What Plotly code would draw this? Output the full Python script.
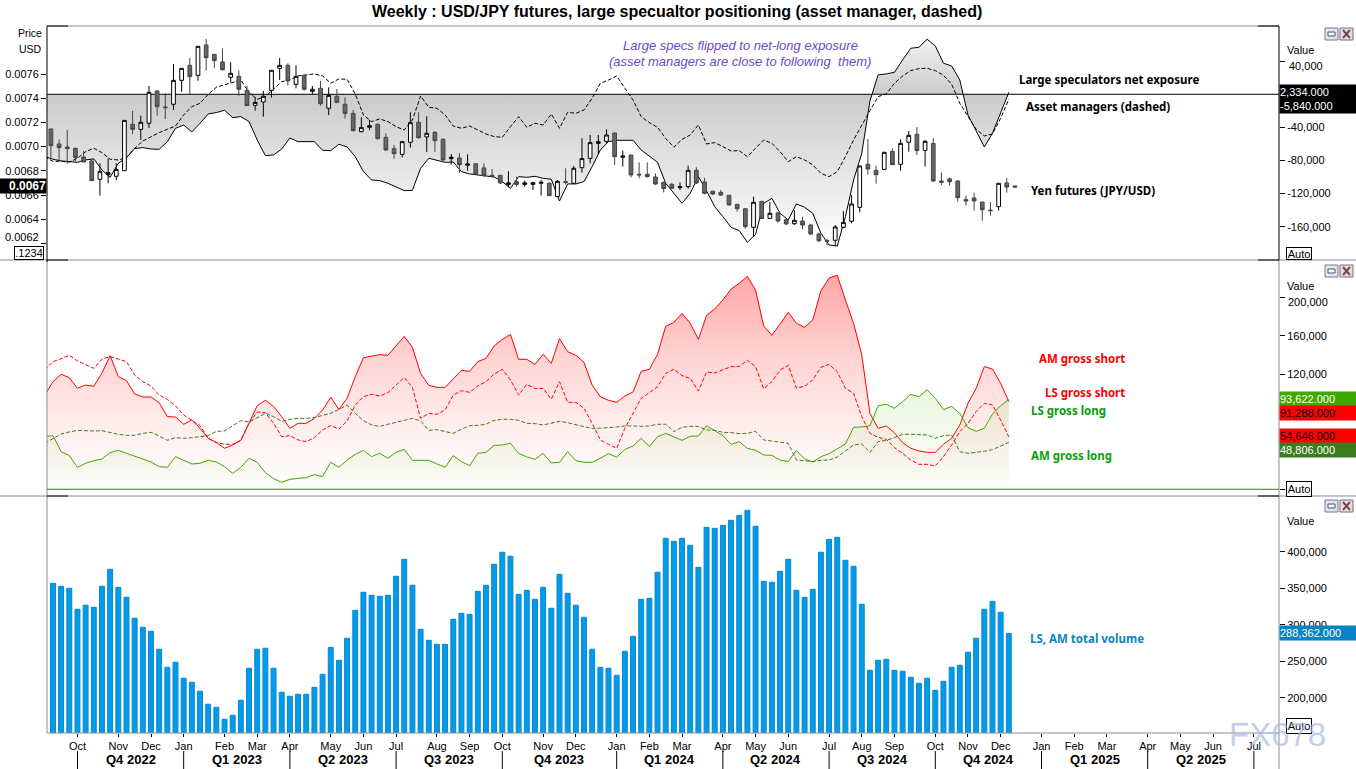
import numpy as np
import plotly.graph_objects as go
from plotly.subplots import make_subplots

# Semaines (index de barre), le point -1 sort a gauche du graphique
weeks = list(range(118))
line_weeks = list(range(-1, 118))
candle_weeks = list(range(119))

# Prix yen futures, en millioniemes de USD
price_open = [7146,7022,6997,6986,6914,6881,6730,6768,6755,6801,
    7184,7143,7193,7460,7328,7350,7548,7672,7589,7840,
    7763,7700,7573,7581,7465,7341,7369,7465,7647,7672,
    7515,7589,7457,7482,7317,7416,7350,7275,7124,7160,
    7184,7077,6983,6936,7036,7201,7080,7118,7060,6901,
    6906,6846,6859,6824,6763,6763,6688,6710,6688,6688,
    6697,6697,6587,6710,6697,6826,6903,7027,7044,7113,
    6912,6931,6771,6771,6749,6705,6688,6661,6669,6804,
    6708,6631,6622,6598,6523,6487,6333,6548,6407,6452,
    6396,6363,6385,6352,6278,6223,6226,6333,6383,6498,
    6854,6804,6812,6961,6854,7036,7102,6969,7027,6716,
    6733,6716,6562,6576,6542,6476,6504,6700,6675]
price_close = [7008,6992,6983,6909,6873,6719,6796,6785,6812,7217,
    7143,7201,7449,7330,7322,7548,7647,7578,7829,7735,
    7711,7636,7606,7474,7339,7366,7416,7631,7672,7543,
    7581,7474,7474,7355,7424,7366,7275,7132,7157,7173,
    7066,6972,6942,7041,7198,7074,7110,7049,6890,6912,
    6851,6857,6771,6760,6757,6700,6700,6688,6700,6702,
    6705,6595,6713,6705,6821,6901,7033,7041,7096,6917,
    6923,6766,6766,6752,6691,6653,6655,6669,6804,6700,
    6614,6609,6600,6518,6487,6339,6540,6407,6449,6385,
    6361,6391,6352,6278,6223,6217,6336,6374,6526,6840,
    6815,6768,6953,6851,7027,7093,6967,7044,6716,6705,
    6710,6578,6551,6551,6479,6471,6697,6666,6666]
price_high = [7146,7060,7138,6986,6967,6903,6862,6903,6862,7217,
    7295,7256,7501,7463,7441,7683,7647,7733,7829,7890,
    7763,7813,7697,7631,7501,7408,7460,7631,7733,7689,
    7672,7595,7501,7543,7490,7476,7408,7303,7242,7220,
    7193,7110,7014,7041,7284,7284,7251,7127,7069,6939,
    6945,6936,6859,6862,6815,6763,6796,6752,6719,6710,
    6724,6705,6724,6821,6840,7069,7096,7096,7143,7113,
    6967,6931,6870,6870,6779,6710,6702,6705,6843,6829,
    6741,6636,6642,6598,6523,6487,6587,6548,6545,6463,
    6402,6476,6421,6361,6289,6239,6352,6468,6600,6843,
    7063,6843,6958,6986,7060,7129,7162,7055,7071,6785,
    6746,6722,6595,6620,6542,6542,6697,6741,6675]
price_low = [6903,6884,6859,6879,6873,6719,6595,6697,6724,6801,
    7104,7055,7154,7256,7228,7303,7454,7432,7545,7628,
    7650,7628,7532,7421,7336,7297,7248,7405,7551,7507,
    7482,7463,7432,7339,7262,7361,7231,7127,7118,7135,
    7058,6967,6901,6909,6992,7066,6956,6956,6884,6851,
    6782,6801,6766,6752,6744,6691,6664,6669,6669,6642,
    6595,6595,6581,6688,6691,6785,6862,6939,7027,6848,
    6835,6744,6738,6744,6683,6622,6650,6642,6653,6691,
    6606,6600,6592,6512,6463,6322,6256,6402,6402,6372,
    6352,6352,6317,6270,6209,6187,6182,6325,6366,6457,
    6771,6694,6807,6848,6801,6958,6931,6835,6710,6683,
    6680,6545,6512,6471,6388,6430,6471,6620,6661]

# Positions nettes, en milliers de contrats
ls_net = [-75.3,-78.5,-80.5,-81.8,-82.2,-79.3,-78.1,-91.4,-100.3,-83.4,-76.5,
    -65.6,-64.4,-66.1,-66.5,-57.2,-41.1,-37.1,-45.5,-35.0,-23.8,
    -22.1,-19.3,-28.2,-27.0,-33.0,-55.2,-74.1,-73.3,-66.1,-52.8,
    -57.2,-57.2,-57.2,-67.7,-68.1,-60.4,-63.6,-75.3,-93.4,-103.5,
    -104.3,-107.5,-111.6,-116.4,-116.0,-89.4,-77.3,-79.3,-82.2,-81.8,
    -93.4,-96.3,-97.5,-98.7,-99.9,-105.5,-113.6,-99.5,-100.3,-99.1,
    -101.5,-102.7,-128.9,-108.3,-108.3,-105.5,-87.4,-67.3,-57.2,-55.6,
    -55.6,-55.6,-67.3,-75.3,-82.2,-107.5,-119.6,-131.7,-119.6,-99.5,
    -116.4,-135.7,-147.8,-160.7,-164.7,-178.8,-169.2,-131.7,-125.7,-143.8,
    -151.8,-132.5,-136.5,-143.8,-168.0,-182.1,-183.3,-147.8,-103.5,-71.3,
    -8.0,23.4,24.6,26.6,41.5,55.6,56.8,66.5,58.4,37.5,
    34.2,17.3,-25.0,-43.9,-63.6,-47.1,-23.0,2.334]
am_net = [-75.3,-81.0,-81.0,-81.8,-77.3,-69.3,-65.2,-70.5,-78.5,-79.3,-76.5,
    -65.2,-56.4,-51.1,-46.3,-42.3,-38.3,-25.0,-14.9,-10.9,0.0,
    8.5,11.3,14.5,17.3,2.0,-6.0,-2.8,6.0,15.3,17.3,
    22.2,23.4,24.6,22.2,13.3,18.5,18.1,0.4,-25.0,-33.0,
    -29.8,-33.0,-39.1,-43.1,-31.0,-2.0,-15.7,-16.9,-25.0,-38.3,
    -41.1,-38.3,-43.1,-47.9,-51.1,-52.0,-39.1,-27.0,-39.9,-35.0,
    -37.1,-23.8,-41.1,-21.7,-23.0,-18.9,-4.8,13.3,17.3,22.2,
    7.3,-6.8,-27.0,-34.2,-39.9,-53.2,-64.0,-54.4,-49.1,-37.1,
    -60.0,-58.4,-63.2,-68.5,-68.1,-75.3,-65.2,-55.2,-59.2,-69.3,
    -81.4,-75.3,-79.3,-85.4,-95.5,-99.5,-93.4,-75.3,-55.2,-37.1,
    -19.7,-2.8,0.4,13.3,22.2,28.6,31.0,31.4,28.6,23.0,
    12.1,-10.9,-27.0,-42.3,-50.3,-47.9,-29.0,-5.84]

# Positions brutes, en milliers de contrats
am_short = [98.2,112.1,119.8,116.3,105.2,108.6,107.3,121.1,139.2,117.3,113.2,
    99.3,96.2,96.2,90.3,75.7,75.3,67.7,72.2,63.5,53.1,
    48.9,42.7,46.2,51.0,68.7,87.1,92.7,86.4,75.7,63.5,
    68.7,68.7,73.9,82.6,95.8,83.3,94.8,117.3,137.1,138.9,
    140.3,139.6,149.3,159.3,147.9,120.8,108.3,106.2,106.2,115.6,
    123.9,122.9,133.0,136.4,149.3,156.2,161.4,135.4,135.4,130.2,
    140.6,131.2,156.9,143.4,139.6,132.3,108.6,96.5,92.7,90.6,
    97.2,101.4,122.9,125.0,140.6,169.8,173.9,183.3,172.9,156.2,
    181.2,187.8,197.2,208.6,214.6,221.8,207.6,170.1,160.4,172.2,
    184.4,172.9,168.7,176.4,206.9,220.1,222.9,197.2,172.9,139.9,
    79.1,63.5,66.0,58.9,48.6,42.7,39.9,38.5,38.5,46.9,
    53.1,67.0,89.6,105.2,127.8,125.3,110.4,91.288]
ls_short = [124.3,133.0,136.1,139.6,133.7,129.5,126.0,135.7,138.2,135.7,133.0,
    119.1,112.1,107.6,98.2,93.7,86.8,77.4,71.5,66.3,53.1,
    48.6,46.9,46.9,51.0,68.7,80.5,79.8,68.7,54.8,55.9,
    51.4,49.6,53.8,61.8,66.3,62.8,71.2,87.8,96.5,98.9,
    97.2,100.7,108.6,116.6,106.2,73.9,79.1,78.1,82.6,98.2,
    102.7,101.0,107.6,112.1,120.1,125.0,113.9,98.2,109.4,104.8,
    105.2,93.7,112.1,90.6,90.6,84.4,68.7,51.4,46.9,42.7,
    63.5,79.1,94.8,100.7,106.9,120.8,125.0,118.4,115.6,102.4,
    122.2,121.2,124.3,127.8,128.1,134.4,127.8,104.8,112.1,124.3,
    129.1,105.5,107.3,113.9,127.1,130.2,122.5,105.2,100.0,75.7,
    58.3,54.1,52.1,43.4,37.5,30.5,26.0,26.0,24.3,34.0,
    46.2,60.1,68.7,80.9,89.6,87.8,72.2,54.646]
ls_long = [54.8,55.9,39.2,35.1,22.9,27.1,29.8,31.6,38.2,40.6,37.5,
    34.4,31.2,28.5,23.6,22.9,34.0,29.8,26.4,27.1,30.2,
    28.5,23.6,16.6,22.9,32.3,28.1,17.3,11.1,7.3,10.4,
    11.4,12.1,15.3,13.2,28.1,22.9,30.5,36.4,40.6,34.0,
    37.5,32.3,38.5,41.6,30.2,30.2,30.2,26.4,22.9,35.1,
    28.8,24.6,37.5,38.5,45.8,46.2,47.9,37.5,33.7,31.2,
    37.5,27.4,28.1,39.2,29.8,28.1,28.1,32.3,37.1,33.3,
    41.6,45.1,53.1,44.4,54.8,58.3,54.8,51.0,55.2,55.5,
    66.3,61.1,55.9,46.9,49.6,42.7,40.6,35.7,35.4,30.5,
    28.8,40.6,31.6,28.5,34.0,37.1,42.3,47.2,64.6,64.9,
    66.3,87.1,88.5,84.4,91.3,98.9,96.5,103.8,94.8,83.0,
    86.4,79.1,64.2,60.4,63.5,78.4,87.1,93.622]
am_long = [47.9,52.4,57.6,59.7,61.4,61.1,60.7,61.1,59.0,57.3,56.2,
    56.2,58.3,59.4,55.5,51.0,53.8,53.1,53.8,54.8,55.9,
    60.4,60.7,66.3,71.5,70.1,74.6,79.1,75.7,70.8,72.9,
    73.9,73.9,74.6,77.1,79.1,83.3,87.5,79.1,71.5,67.0,
    65.6,67.7,69.8,71.9,73.9,71.2,61.4,62.1,60.4,58.3,
    62.5,66.3,66.6,67.7,71.9,72.9,72.9,71.9,68.7,68.4,
    67.0,69.1,70.8,69.4,67.0,65.2,63.2,63.5,64.2,64.9,
    66.0,66.0,65.6,66.0,67.7,67.7,60.1,64.6,65.6,65.6,
    61.8,61.4,59.4,59.0,58.0,58.3,60.4,51.4,50.0,49.3,
    47.9,30.5,29.8,28.8,30.2,30.5,33.7,40.3,46.2,47.2,
    38.5,49.6,51.0,53.8,57.3,57.3,56.6,56.6,53.1,55.9,
    56.6,39.2,37.5,38.5,39.6,41.3,45.1,48.8]

# Volume total LS + AM, en milliers de contrats
total_volume = [357.1,353.0,350.3,321.5,327.0,324.2,353.0,376.3,351.6,337.9,
    309.2,296.8,291.3,266.7,242.0,248.9,227.0,221.5,209.2,191.4,
    187.2,170.8,176.3,196.8,240.7,266.7,268.1,240.7,207.8,202.3,
    205.0,205.0,214.6,232.4,269.4,251.6,281.8,320.1,344.8,340.7,
    339.3,340.7,366.7,390.0,354.4,294.1,279.0,273.5,273.5,307.8,
    316.0,314.6,346.1,354.4,383.1,399.6,394.1,342.0,347.5,335.2,
    351.6,322.9,369.4,343.4,327.0,310.5,266.7,242.0,240.7,231.1,
    263.9,284.5,335.2,336.5,372.2,418.7,414.6,418.7,409.1,379.0,
    433.8,432.4,436.5,443.4,450.2,457.1,435.2,359.8,358.5,373.5,
    390.0,347.5,337.9,348.9,399.6,417.4,420.1,388.6,380.4,328.3,
    237.9,251.6,253.0,237.9,236.6,228.3,220.1,227.0,210.5,222.8,
    242.0,244.8,262.6,281.8,321.5,332.4,317.4,288.362]

# Axe des temps : premiere barre de chaque mois / trimestre
month_ticks = [3,8,12,16,21,25,29,34,38,42,47,51,55,60,64,69,73,77,82,86,90,95,99,
    103,108,112,116,121,125,129,134,138,142,147]
month_labels = ["Oct","Nov","Dec","Jan","Feb","Mar","Apr","May","Jun","Jul","Aug","Sep",
    "Oct","Nov","Dec","Jan","Feb","Mar","Apr","May","Jun","Jul","Aug","Sep",
    "Oct","Nov","Dec","Jan","Feb","Mar","Apr","May","Jun","Jul"]
quarter_ticks = [3,16,29,42,55,69,82,95,108,121,134,147]
quarter_labels = ["Q4 2022","Q1 2023","Q2 2023","Q3 2023","Q4 2023","Q1 2024","Q2 2024",
    "Q3 2024","Q4 2024","Q1 2025","Q2 2025"]

price_ticks = [0.0076,0.0074,0.0072,0.0070,0.0068,0.0066,0.0064,0.0062]
price_labels = ["0.0076","0.0074","0.0072","0.0070","0.0068","0.0066","0.0064",""]
net_ticks = [40000,-40000,-80000,-120000,-160000]
net_labels = ["","-40,000","-80,000","-120,000","-160,000"]
gross_ticks = [200000,160000,120000,0]
gross_labels = ["","160,000","120,000",""]
volume_ticks = [400000,350000,300000,250000,200000]
volume_labels = ["400,000","350,000","300,000","250,000","200,000"]

WIDTH, HEIGHT = 1356, 769
LEFT, RIGHT, TOP, BOTTOM = 47, 1279, 26, 733
FONT = "Liberation Sans"
LABEL_FONT = "Noto Sans"
LABEL_SIZE = 11.5
GREY = "#8a8a9c"


def px(x):
    return (x - LEFT) / (RIGHT - LEFT)


def py(y):
    return (BOTTOM - y) / (BOTTOM - TOP)


def thousands(values):
    return np.array(values) * 1000


fig = make_subplots(
    rows=3, cols=1, shared_xaxes=True, vertical_spacing=0,
    row_heights=[234, 236, 237],
    specs=[[{"secondary_y": True}], [{}], [{}]],
)

# Panneau du haut : expositions nettes + chandeliers
fig.add_trace(go.Scatter(
    x=line_weeks, y=thousands(ls_net), mode="lines", fill="tozeroy",
    line=dict(color="black", width=1),
    fillgradient=dict(type="vertical", start=-185000, stop=67000,
                      colorscale=[[0, "#ffffff"], [0.734, "#cbcbcb"], [1, "#f2f2f2"]]),
    showlegend=False), row=1, col=1)
fig.add_trace(go.Scatter(
    x=line_weeks, y=thousands(am_net), mode="lines",
    line=dict(color="black", width=1, dash="4px,2px"), showlegend=False), row=1, col=1)
fig.add_trace(go.Scatter(
    x=[-1, 151], y=[0, 0], mode="lines", line=dict(color="black", width=1),
    showlegend=False), row=1, col=1)
fig.add_trace(go.Candlestick(
    x=np.array(candle_weeks) - 0.25,
    open=np.array(price_open) / 1e6, high=np.array(price_high) / 1e6,
    low=np.array(price_low) / 1e6, close=np.array(price_close) / 1e6,
    increasing=dict(line=dict(color="black", width=1), fillcolor="white"),
    decreasing=dict(line=dict(color="#444444", width=1), fillcolor="#666666"),
    showlegend=False), row=1, col=1, secondary_y=True)

# Panneau du milieu : positions brutes
fig.add_trace(go.Scatter(
    x=line_weeks, y=thousands(am_short), mode="lines", fill="tozeroy",
    line=dict(color="#ff0000", width=1),
    fillgradient=dict(type="vertical", start=0, stop=225000,
                      colorscale=[[0, "#ffffff"], [0.13, "#fff7f7"], [0.29, "#ffeeee"],
                                  [0.6, "#ffd4d4"], [1, "#ffa5a5"]]),
    showlegend=False), row=2, col=1)
fig.add_trace(go.Scatter(
    x=line_weeks, y=thousands(ls_long), mode="lines", fill="tozeroy",
    line=dict(color="#3fa800", width=1),
    fillgradient=dict(type="vertical", start=0, stop=105000,
                      colorscale=[[0, "rgba(120,190,40,0.02)"], [1, "rgba(120,200,40,0.14)"]]),
    showlegend=False), row=2, col=1)
fig.add_trace(go.Scatter(
    x=line_weeks, y=thousands(ls_short), mode="lines",
    line=dict(color="#ff0000", width=1, dash="4px,2px"), showlegend=False), row=2, col=1)
fig.add_trace(go.Scatter(
    x=line_weeks, y=thousands(am_long), mode="lines",
    line=dict(color="#3e7a1e", width=1, dash="4px,2px"), showlegend=False), row=2, col=1)

# Panneau du bas : volume
fig.add_trace(go.Bar(
    x=weeks, y=thousands(total_volume), width=0.6,
    marker=dict(color="#009bec", line=dict(color="#0a86c8", width=1)),
    showlegend=False), row=3, col=1)

fig.update_xaxes(domain=[0, 1], range=[-0.73, 150.07], showgrid=False, zeroline=False,
                 rangeslider_visible=False, ticks="", showticklabels=False)
fig.update_xaxes(row=3, col=1, tickmode="array", tickvals=month_ticks, ticktext=month_labels,
                 ticks="outside", ticklen=3, tickcolor="black", showticklabels=True,
                 tickfont=dict(family=FONT, size=11, color="black"), tickangle=0)

axis_font = dict(family=FONT, size=11, color="black")
fig.update_yaxes(row=1, col=1, secondary_y=False, side="right", range=[-200200, 82500],
                 tickmode="array", tickvals=net_ticks, ticktext=net_labels,
                 ticks="outside", ticklen=5, tickcolor="black", tickfont=axis_font,
                 showgrid=False, zeroline=False)
fig.update_yaxes(row=1, col=1, secondary_y=True, side="left", range=[0.006063, 0.007997],
                 tickmode="array", tickvals=price_ticks, ticktext=price_labels,
                 ticks="outside", ticklen=5, tickcolor="black", tickfont=axis_font,
                 showgrid=False, zeroline=False)
fig.update_yaxes(row=2, col=1, side="right", range=[-7000, 238900],
                 tickmode="array", tickvals=gross_ticks, ticktext=gross_labels,
                 ticks="outside", ticklen=5, tickcolor="black", tickfont=axis_font,
                 showgrid=False, zeroline=False)
fig.update_yaxes(row=3, col=1, side="right", range=[152000, 476700],
                 tickmode="array", tickvals=volume_ticks, ticktext=volume_labels,
                 ticks="outside", ticklen=5, tickcolor="black", tickfont=axis_font,
                 showgrid=False, zeroline=False)

annotations = []


def label(x, y, text, color="black", size=11, family=FONT, anchor="left", bold=False, italic=False):
    if bold:
        text = "<b>" + text + "</b>"
    if italic:
        text = "<i>" + text + "</i>"
    annotations.append(dict(
        xref="paper", yref="paper", x=px(x), y=py(y), text=text, showarrow=False,
        xanchor=anchor, yanchor="middle", borderpad=0,
        font=dict(family=family, size=size, color=color)))


def value_box(y0, y1, text, bg, color):
    annotations.append(dict(
        xref="paper", yref="paper", x=px(RIGHT), y=py((y0 + y1) / 2), text=text, showarrow=False,
        xanchor="left", yanchor="middle", width=76, height=y1 - y0, align="left", valign="middle",
        bgcolor=bg, borderpad=0, font=dict(family=FONT, size=11, color=color)))


def small_box(x0, x1, y0, y1, text):
    annotations.append(dict(
        xref="paper", yref="paper", x=px((x0 + x1) / 2), y=py((y0 + y1) / 2), text=text,
        showarrow=False, xanchor="center", yanchor="middle", width=x1 - x0, height=y1 - y0,
        bgcolor="white", bordercolor="black", borderwidth=1, borderpad=0,
        font=dict(family=FONT, size=11, color="black")))


# Titre
label(677, 12, "Weekly : USD/JPY futures, large specualtor positioning (asset manager, dashed)",
      size=16, anchor="center", bold=True)

# Commentaire violet
label(740, 45, "Large specs flipped to net-long exposure", color="#6a4bc4", size=13, anchor="center", italic=True)
label(740, 61, "(asset managers are close to following  them)", color="#6a4bc4", size=13, anchor="center", italic=True)

# Etiquettes des series
label(1018, 80, "Large speculators net exposure", size=LABEL_SIZE, family=LABEL_FONT, bold=True)
label(1025, 107, "Asset managers (dashed)", size=LABEL_SIZE, family=LABEL_FONT, bold=True)
label(1030, 190, "Yen futures (JPY/USD)", size=LABEL_SIZE, family=LABEL_FONT, bold=True)
label(1038, 358, "AM gross short", color="#ff0000", size=LABEL_SIZE, family=LABEL_FONT, bold=True)
label(1044, 392, "LS gross short", color="#ff0000", size=LABEL_SIZE, family=LABEL_FONT, bold=True)
label(1030, 410, "LS gross long", color="#0a9a0a", size=LABEL_SIZE, family=LABEL_FONT, bold=True)
label(1030, 455, "AM gross long", color="#0aa00a", size=LABEL_SIZE, family=LABEL_FONT, bold=True)
label(1029, 638, "LS, AM total volume", color="#0a85c0", size=LABEL_SIZE, family=LABEL_FONT, bold=True)

# Libelles des axes
label(43, 33, "Price", anchor="right", size=10.5)
label(43, 49, "USD", anchor="right", size=10.5)
label(40, 237, "0.0062", anchor="right")
label(1286, 50, "Value")
label(1286, 286, "Value")
label(1286, 521, "Value")
label(1288, 66, "40,000")
label(1287, 302, "200,000")

# Cases de valeur a droite
value_box(85, 99, "2,334.000", "black", "white")
value_box(99, 113, "-5,840.000", "black", "white")
value_box(392, 406, "93,622.000", "#3fa800", "white")
value_box(406, 420, "91,288.000", "#ff0000", "black")
value_box(429, 443, "54,646.000", "#ff0000", "black")
value_box(443, 457, "48,806.000", "#3e7a1e", "white")
value_box(626, 640, "288,362.000", "#0a83c4", "white")

# Case du dernier prix a gauche
annotations.append(dict(
    xref="paper", yref="paper", x=px(LEFT), y=py(186), text="<b>0.0067</b>", showarrow=False,
    xanchor="right", yanchor="middle", width=47, height=14, align="right", bgcolor="black",
    borderpad=0, font=dict(family=FONT, size=12, color="white")))

small_box(15, 43, 247, 259, ".1234")
small_box(1287, 1311, 248, 259, "Auto")
small_box(1287, 1311, 482, 496, "Auto")
small_box(1287, 1311, 719, 733, "Auto")

# Libelles des trimestres
for i, name in enumerate(quarter_labels):
    annotations.append(dict(
        xref="x3", yref="paper", x=(quarter_ticks[i] + quarter_ticks[i + 1]) / 2, y=py(759),
        text="<b>" + name + "</b>", showarrow=False, xanchor="center", yanchor="middle",
        font=dict(family=FONT, size=13, color="black")))

# Filigrane
label(1277, 734, "FX678", color="rgba(165,188,220,0.7)", size=33, anchor="center")

shapes = []


def line_px(x0, y0, x1, y1, color=GREY, width=1):
    shapes.append(dict(type="line", xref="paper", yref="paper", x0=px(x0), y0=py(y0),
                       x1=px(x1), y1=py(y1), line=dict(color=color, width=width), layer="above"))


def rect_px(x0, y0, x1, y1, line, fill):
    shapes.append(dict(type="rect", xref="paper", yref="paper", x0=px(x0), y0=py(y0),
                       x1=px(x1), y1=py(y1), line=dict(color=line, width=1), fillcolor=fill,
                       layer="above"))


# Cadres des panneaux
line_px(LEFT, 26, RIGHT, 26)
line_px(0, 260, WIDTH, 260)
line_px(0, 496, WIDTH, 496)
line_px(LEFT, 733, RIGHT, 733)
line_px(LEFT, 260, LEFT, 733)
line_px(RIGHT, 260, RIGHT, 769)
line_px(LEFT, 26, LEFT, 262, color="black")
line_px(RIGHT, 26, RIGHT, 260, color="black")
for y in [26, 260, 496]:
    line_px(LEFT, y, 68, y, color="black")
    line_px(1258, y, RIGHT, y, color="black")

# Ligne de base verte du panneau du milieu
shapes.append(dict(type="line", xref="paper", yref="y3", x0=0, x1=1, y0=0, y1=0,
                   line=dict(color="#3e7a1e", width=1), layer="above"))

# Traits des trimestres sous l'axe
for q in quarter_ticks:
    shapes.append(dict(type="line", xref="x3", yref="paper", x0=q, x1=q, y0=py(751), y1=py(769),
                       line=dict(color="black", width=1), layer="above"))

# Boutons de fenetre en haut a droite de chaque panneau
for y in [28, 265, 500]:
    rect_px(1325, y, 1338, y + 12, "#6f7a92", "#dfe6ef")
    rect_px(1328, y + 4, 1335, y + 8, "#4a5570", "#ffffff")
    rect_px(1340, y, 1353, y + 12, "#7a6a70", "#e6e0e0")
    line_px(1343, y + 2, 1350, y + 10, color="#7a4a4a", width=2)
    line_px(1350, y + 2, 1343, y + 10, color="#7a4a4a", width=2)

fig.update_layout(
    width=WIDTH, height=HEIGHT,
    margin=dict(l=LEFT, r=WIDTH - RIGHT, t=TOP, b=HEIGHT - BOTTOM, autoexpand=False),
    plot_bgcolor="white", paper_bgcolor="white",
    showlegend=False, boxgap=0.35,
    annotations=annotations, shapes=shapes,
    font=dict(family=FONT),
)

fig.write_html("out.html", config={"displayModeBar": False},
               post_script="document.body.style.margin='0';")
